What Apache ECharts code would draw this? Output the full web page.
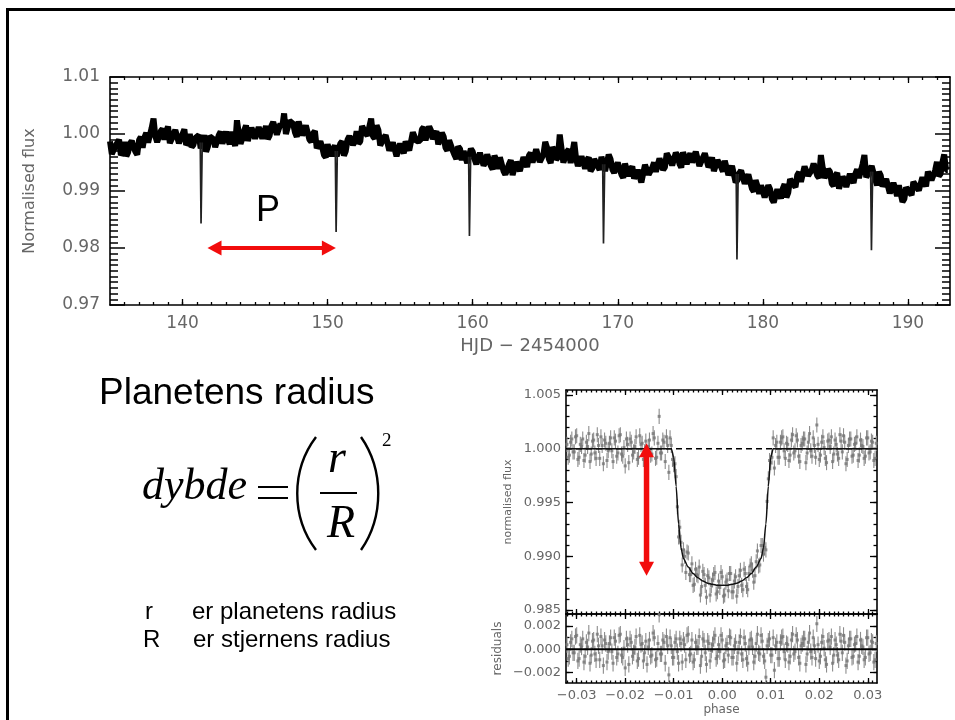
<!DOCTYPE html>
<html>
<head>
<meta charset="utf-8">
<script src="https://cdn.jsdelivr.net/npm/echarts@6/dist/echarts.min.js"></script>
<style>html,body{margin:0;padding:0;background:#fff}#c{width:955px;height:720px}</style>
</head>
<body>
<div id="c"></div>
<script>
// ---------- light curve (HJD - 2454000, normalised flux): two interleaved samplings, 0.25 d apart each ----------
const lcStep = 0.25;
const lcStartA = 135.0;
const lcFluxA = [
0.9987,0.9967,0.9981,0.9963,0.9986,0.9968,0.9988,0.9969,0.9989,0.9976,
1.0002,0.9988,1.0027,0.9986,1.0005,0.9990,1.0013,0.9991,1.0007,0.9984,
1.0000,0.9981,1.0000,0.9981,0.9994,0.9975,0.9998,0.9978,0.9997,0.9977,
0.9998,0.9983,1.0004,0.9982,1.0001,1.0024,0.9983,1.0006,0.9988,1.0011,
0.9992,1.0012,0.9992,1.0014,0.9997,1.0021,0.9999,1.0018,1.0036,1.0002,
1.0023,1.0003,1.0022,0.9998,1.0015,0.9990,1.0001,0.9975,0.9987,0.9963,
0.9982,0.9961,0.9980,0.9963,0.9987,0.9970,0.9996,0.9981,1.0005,0.9987,
1.0013,0.9997,1.0027,0.9992,1.0007,0.9983,0.9998,0.9971,0.9985,0.9961,
0.9983,0.9966,0.9988,0.9973,1.0001,0.9985,1.0008,0.9989,1.0013,0.9991,
1.0005,0.9979,0.9995,0.9971,0.9987,0.9963,0.9978,0.9954,0.9972,0.9950,
0.9969,0.9947,0.9967,0.9945,0.9964,0.9944,0.9962,0.9939,0.9956,0.9929,
0.9947,0.9928,0.9951,0.9935,0.9959,0.9942,0.9967,0.9949,0.9970,0.9951,
0.9986,0.9956,0.9977,0.9955,0.9999,0.9950,0.9969,0.9949,0.9986,0.9944,
0.9961,0.9939,0.9959,0.9940,0.9959,0.9937,0.9959,0.9937,0.9956,0.9932,
0.9950,0.9929,0.9948,0.9926,0.9943,0.9919,0.9938,0.9918,0.9943,0.9927,
0.9950,0.9933,0.9960,0.9942,0.9963,0.9945,0.9967,0.9948,0.9968,0.9947,
0.9966,0.9947,0.9967,0.9946,0.9966,0.9942,0.9959,0.9937,0.9955,0.9934,
0.9951,0.9927,0.9943,0.9919,0.9936,0.9913,0.9929,0.9904,0.9919,0.9895,
0.9910,0.9887,0.9903,0.9880,0.9903,0.9887,0.9912,0.9897,0.9922,0.9907,
0.9933,0.9919,0.9943,0.9926,0.9948,0.9927,0.9963,0.9923,0.9938,0.9913,
0.9927,0.9904,0.9925,0.9907,0.9930,0.9914,0.9938,0.9921,0.9963,0.9926,
0.9944,0.9920,0.9934,0.9908,0.9921,0.9896,0.9914,0.9891,0.9908,0.9886,
0.9909,0.9893,0.9917,0.9901,0.9924,0.9908,0.9935,0.9921,0.9951,0.9930,
0.9964,0.9937
];
const lcStartB = 135.125;
const lcFluxB = [
0.9965,0.9979,0.9990,0.9968,0.9961,0.9983,0.9977,0.9964,0.9995,0.9994,
0.9985,1.0011,0.9996,0.9986,1.0009,1.0005,0.9984,1.0000,1.0009,0.9986,
1.0008,0.9985,0.9977,0.9993,0.9998,0.9983,0.9969,0.9996,0.9991,0.9978,
1.0004,0.9984,0.9991,1.0004,0.9979,1.0002,0.9992,1.0015,0.9989,1.0002,
0.9989,1.0014,1.0003,0.9991,1.0014,1.0023,1.0002,1.0013,1.0000,1.0023,
1.0018,0.9995,1.0021,1.0004,1.0013,0.9986,1.0005,0.9974,0.9977,0.9959,
0.9984,0.9973,0.9961,0.9983,0.9962,0.9990,0.9999,0.9987,0.9983,1.0014,
1.0001,1.0013,0.9996,1.0015,0.9980,0.9993,0.9995,0.9973,0.9985,0.9958,
0.9975,0.9987,0.9971,1.0003,0.9987,0.9988,1.0012,0.9986,1.0006,0.9999,
0.9982,1.0002,0.9976,0.9989,0.9971,0.9956,0.9974,0.9970,0.9949,0.9974,
0.9956,0.9946,0.9967,0.9950,0.9965,0.9938,0.9954,0.9959,0.9935,0.9937,
0.9954,0.9928,0.9949,0.9933,0.9953,0.9962,0.9950,0.9973,0.9951,0.9964,
0.9976,0.9949,0.9970,0.9959,0.9974,0.9951,0.9973,0.9950,0.9957,0.9941,
0.9961,0.9954,0.9935,0.9956,0.9944,0.9960,0.9935,0.9964,0.9938,0.9941,
0.9949,0.9923,0.9948,0.9938,0.9922,0.9937,0.9915,0.9946,0.9929,0.9941,
0.9934,0.9957,0.9937,0.9966,0.9954,0.9946,0.9962,0.9941,0.9968,0.9959,
0.9950,0.9969,0.9944,0.9959,0.9968,0.9947,0.9935,0.9954,0.9942,0.9953,
0.9928,0.9944,0.9915,0.9931,0.9935,0.9914,0.9930,0.9899,0.9909,0.9910,
0.9889,0.9910,0.9886,0.9880,0.9906,0.9904,0.9889,0.9921,0.9911,0.9928,
0.9916,0.9943,0.9927,0.9937,0.9951,0.9923,0.9941,0.9930,0.9934,0.9909,
0.9932,0.9907,0.9920,0.9906,0.9932,0.9930,0.9923,0.9947,0.9924,0.9936,
0.9941,0.9910,0.9927,0.9911,0.9922,0.9896,0.9904,0.9910,0.9881,0.9906,
0.9897,0.9916,0.9906,0.9901,0.9921,0.9934,0.9919,0.9936,0.9926,0.9950,
0.9937
];
// transits seen in the light curve
const transitMid   = [141.29, 150.60, 159.79, 169.03, 178.23, 187.50];
const transitDepth = [0.9843, 0.9828, 0.9821, 0.9808, 0.9780, 0.9796];
const transitRim   = [0.9985, 0.9970, 0.9960, 0.9947, 0.9930, 0.9934];
const transitHalf = 0.07, transitFlat = 0.015;
const lcTickValues = [140, 150, 160, 170, 180, 190];
const periodArrow = [141.72, 150.57, 0.980]; // from, to, flux level

// ---------- phase-folded transit: two interleaved sets of points ----------
const phaseStep = 0.0005;
const phaseStartA = -0.032;
const foldFluxA = [
1.0004,0.9994,1.0009,0.9997,1.0012,0.9992,1.0002,0.9989,1.0006,1.0014,
0.9995,1.0008,0.9991,1.0003,1.0011,0.9986,1.0005,0.9998,1.0010,0.9988,
1.0007,0.9996,1.0013,0.9993,0.9984,1.0004,1.0009,0.9994,1.0002,0.9990,
1.0012,1.0005,0.9997,0.9987,1.0008,0.9995,1.0010,0.9992,1.0030,0.9996,
1.0006,1.0011,0.9978,1.0003,0.9985,0.9974,0.9918,0.9913,0.9906,0.9885,
0.9903,0.9883,0.9873,0.9888,0.9882,0.9864,0.9886,0.9873,0.9882,0.9864,
0.9878,0.9885,0.9867,0.9871,0.9881,0.9864,0.9878,0.9884,0.9867,0.9877,
0.9863,0.9882,0.9873,0.9888,0.9872,0.9884,0.9893,0.9876,0.9895,0.9891,
0.9910,0.9902,0.9906,0.9972,0.9987,1.0010,1.0003,0.9992,1.0006,1.0011,
0.9991,1.0004,0.9994,1.0013,0.9998,1.0008,0.9988,1.0005,1.0009,0.9996,
1.0014,0.9993,1.0003,1.0022,0.9990,1.0006,1.0001,0.9987,1.0008,1.0011,
0.9995,1.0004,0.9991,1.0007,1.0012,0.9986,1.0003,1.0009,0.9994,1.0005,
0.9989,1.0008,1.0002,0.9993,1.0010,0.9997,1.0006,0.9991,1.0004
];
const residualA = [
0.0004,-0.0006,0.0009,-0.0003,0.0012,-0.0008,0.0002,-0.0011,0.0006,0.0014,
-0.0005,0.0008,-0.0009,0.0003,0.0011,-0.0014,0.0005,-0.0002,0.0010,-0.0012,
0.0007,-0.0004,0.0013,-0.0007,-0.0016,0.0004,0.0009,-0.0006,0.0002,-0.0010,
0.0012,0.0005,-0.0003,-0.0013,0.0008,-0.0005,0.0010,-0.0008,0.0030,-0.0004,
0.0006,0.0011,-0.0022,0.0003,-0.0007,0.0009,-0.0012,0.0005,0.0008,-0.0009,
0.0013,-0.0004,-0.0011,0.0006,0.0002,-0.0014,0.0009,-0.0003,0.0007,-0.0010,
0.0004,0.0012,-0.0006,-0.0002,0.0008,-0.0009,0.0005,0.0011,-0.0007,0.0003,
-0.0012,0.0006,-0.0004,0.0010,-0.0008,0.0002,0.0009,-0.0011,0.0005,-0.0003,
0.0012,-0.0006,-0.0024,0.0007,-0.0005,0.0010,0.0003,-0.0008,0.0006,0.0011,
-0.0009,0.0004,-0.0006,0.0013,-0.0002,0.0008,-0.0012,0.0005,0.0009,-0.0004,
0.0014,-0.0007,0.0003,0.0022,-0.0010,0.0006,0.0001,-0.0013,0.0008,0.0011,
-0.0005,0.0004,-0.0009,0.0007,0.0012,-0.0014,0.0003,0.0009,-0.0006,0.0005,
-0.0011,0.0008,0.0002,-0.0007,0.0010,-0.0003,0.0006,-0.0009,0.0004
];
const phaseStartB = -0.03175;
const foldFluxB = [
0.9992,1.0006,0.9997,1.0011,0.9990,1.0004,1.0009,0.9994,1.0002,0.9988,
1.0007,0.9996,1.0013,0.9991,1.0003,1.0008,0.9989,1.0005,0.9998,1.0010,
0.9993,1.0012,0.9995,1.0001,1.0009,0.9987,1.0006,0.9997,1.0011,0.9992,
1.0004,0.9990,1.0007,1.0002,0.9994,1.0014,0.9991,1.0005,0.9996,1.0008,
0.9988,1.0003,1.0010,0.9990,0.9986,0.9946,0.9927,0.9892,0.9900,0.9904,
0.9883,0.9893,0.9874,0.9883,0.9890,0.9872,0.9883,0.9862,0.9880,0.9873,
0.9883,0.9865,0.9877,0.9885,0.9863,0.9876,0.9868,0.9884,0.9867,0.9881,
0.9872,0.9887,0.9869,0.9884,0.9869,0.9891,0.9887,0.9882,0.9905,0.9892,
0.9910,0.9908,0.9951,0.9989,0.9992,0.9982,1.0006,0.9992,1.0010,0.9998,
1.0005,0.9989,1.0008,0.9996,1.0012,0.9993,1.0003,1.0009,0.9987,1.0006,
0.9998,1.0010,0.9992,1.0004,0.9994,1.0011,0.9991,1.0007,1.0002,0.9988,
1.0008,0.9995,1.0013,0.9997,1.0006,0.9990,1.0009,0.9993,1.0004,1.0011,
0.9994,1.0003,0.9991,1.0010,0.9996,1.0007,0.9989,1.0005
];
const residualB = [
-0.0008,0.0006,-0.0003,0.0011,-0.0010,0.0004,0.0009,-0.0006,0.0002,-0.0012,
0.0007,-0.0004,0.0013,-0.0009,0.0003,0.0008,-0.0011,0.0005,-0.0002,0.0010,
-0.0007,0.0012,-0.0005,0.0001,0.0009,-0.0013,0.0006,-0.0003,0.0011,-0.0008,
0.0004,-0.0010,0.0007,0.0002,-0.0006,0.0014,-0.0009,0.0005,-0.0004,0.0008,
-0.0012,0.0003,0.0010,-0.0007,0.0006,-0.0002,0.0009,-0.0011,0.0004,0.0012,
-0.0005,0.0008,-0.0009,0.0002,0.0011,-0.0006,0.0007,-0.0013,0.0005,-0.0001,
0.0009,-0.0008,0.0004,0.0012,-0.0010,0.0003,-0.0005,0.0010,-0.0007,0.0006,
-0.0003,0.0011,-0.0009,0.0005,-0.0012,0.0008,0.0002,-0.0006,0.0013,-0.0004,
0.0007,-0.0010,0.0003,0.0009,-0.0005,-0.0018,0.0006,-0.0008,0.0010,-0.0002,
0.0005,-0.0011,0.0008,-0.0004,0.0012,-0.0007,0.0003,0.0009,-0.0013,0.0006,
-0.0002,0.0010,-0.0008,0.0004,-0.0006,0.0011,-0.0009,0.0007,0.0002,-0.0012,
0.0008,-0.0005,0.0013,-0.0003,0.0006,-0.0010,0.0009,-0.0007,0.0004,0.0011,
-0.0006,0.0003,-0.0009,0.0010,-0.0004,0.0007,-0.0011,0.0005
];
const errHalf = 0.0007;
const modelPhase = [-0.032,-0.0105,-0.0100,-0.0095,-0.0090,-0.0085,-0.0080,-0.0070,-0.0060,-0.0050,-0.0040,-0.0030,-0.0020,-0.0010,0,
                    0.0010,0.0020,0.0030,0.0040,0.0050,0.0060,0.0070,0.0080,0.0085,0.0090,0.0095,0.0100,0.0105,0.032];
const modelFlux  = [1,1,0.9992,0.9965,0.9930,0.9908,0.9898,0.9890,0.9884,0.9880,0.9877,0.9875,0.9874,0.9873,0.9873,
                    0.9873,0.9874,0.9875,0.9877,0.9880,0.9884,0.9890,0.9898,0.9908,0.9930,0.9965,0.9992,1,1];
const baselineFlux = 1.0;
const phaseTickValues = [-0.03,-0.02,-0.01,0,0.01,0.02,0.03];
const foldTickValues = [0.985,0.990,0.995,1.000,1.005];
const residTickValues = [-0.002,0,0.002];
const depthArrow = [-0.0156, 1.0005, 0.9882]; // phase, top, bottom

// ---------- build ----------
const r6 = v => Math.round(v * 1e6) / 1e6;
const lcData = lcFluxA.map((f, i) => [lcStartA + i * lcStep, f])
  .concat(lcFluxB.map((f, j) => [lcStartB + j * lcStep, f]))
  .sort((p, q) => p[0] - q[0]);
const withPhase = (arr, start) => arr.map((f, k) => [r6(start + k * phaseStep), f, errHalf]);
const foldData = withPhase(foldFluxA, phaseStartA).concat(withPhase(foldFluxB, phaseStartB));
const residData = withPhase(residualA, phaseStartA).concat(withPhase(residualB, phaseStartB));
const modelData = modelPhase.map((p, i) => [p, modelFlux[i]]);

function range(a, b, s) { const o = []; for (let v = a; v <= b + s / 2; v += s) o.push(r6(v)); return o; }
const lcMinor = range(136, 192, 1);
const phaseMinor = range(-0.032, 0.031, 0.001);
const foldMinor = range(0.985, 1.005, 0.001);
const residMinor = range(-0.002, 0.003, 0.001);

const AX = '#000', LBL = '#666', FONT = 'DejaVu Sans';
const RED = '#f20c0c';

function xAx(grid, pos, min, max, ticks, len, opts) {
  return Object.assign({
    type: 'value', gridIndex: grid, position: pos, min: min, max: max,
    axisLine: { show: true, onZero: false, lineStyle: { color: AX, width: 1.6 } },
    axisTick: { show: true, inside: true, length: len, customValues: ticks, lineStyle: { color: AX, width: 1.3 } },
    axisLabel: { show: false }, splitLine: { show: false }
  }, opts || {});
}
const yAx = xAx;
const minorOpt = { axisLine: { show: false, onZero: false } };
const fmtSigned = d => v => (Math.abs(v) < 1e-9 ? (0).toFixed(d) : (v < 0 ? '\u2212' : '') + Math.abs(v).toFixed(d));

const PX = [-0.0322, 0.0319], FY = [0.98464, 1.00545], RY = [-0.0029, 0.00304];

const xAxis = [
  xAx(0, 'bottom', 135, 192.9, lcTickValues, 6, {
    axisLabel: { show: true, customValues: lcTickValues, color: LBL, fontSize: 17, fontFamily: FONT, margin: 10 },
    name: 'HJD \u2212 2454000', nameLocation: 'middle', nameGap: 32,
    nameTextStyle: { color: LBL, fontSize: 18, fontFamily: FONT }
  }),
  xAx(0, 'bottom', 135, 192.9, lcMinor, 3, minorOpt),
  xAx(0, 'top', 135, 192.9, lcTickValues, 6),
  xAx(0, 'top', 135, 192.9, lcMinor, 3, minorOpt),
  xAx(1, 'bottom', PX[0], PX[1], phaseTickValues, 5),
  xAx(1, 'bottom', PX[0], PX[1], phaseMinor, 2.5, minorOpt),
  xAx(1, 'top', PX[0], PX[1], phaseTickValues, 5),
  xAx(1, 'top', PX[0], PX[1], phaseMinor, 2.5, minorOpt),
  xAx(2, 'bottom', PX[0], PX[1], phaseTickValues, 5, {
    axisLabel: { show: true, customValues: phaseTickValues, color: LBL, fontSize: 13, fontFamily: FONT, margin: 6, formatter: fmtSigned(2) },
    name: 'phase', nameLocation: 'middle', nameGap: 21,
    nameTextStyle: { color: LBL, fontSize: 12, fontFamily: FONT }
  }),
  xAx(2, 'bottom', PX[0], PX[1], phaseMinor, 2.5, minorOpt),
  xAx(2, 'top', PX[0], PX[1], phaseTickValues, 5),
  xAx(2, 'top', PX[0], PX[1], phaseMinor, 2.5, minorOpt)
];

const lcYBase = {
  type: 'value', gridIndex: 0, min: 0.97, max: 1.01, interval: 0.01,
  axisLine: { show: true, onZero: false, lineStyle: { color: AX, width: 1.6 } },
  axisTick: { show: true, inside: true, length: 15, lineStyle: { color: AX, width: 1.5 } },
  minorTick: { show: true, splitNumber: 10, length: 8, lineStyle: { color: AX, width: 1.5 } },
  splitLine: { show: false }
};
const yAxis = [
  Object.assign({}, lcYBase, {
    position: 'left',
    axisLabel: { color: LBL, fontSize: 17, fontFamily: FONT, margin: 10, formatter: v => v.toFixed(2) },
    name: 'Normalised flux', nameLocation: 'middle', nameGap: 72,
    nameTextStyle: { color: LBL, fontSize: 16, fontFamily: FONT }
  }),
  Object.assign({}, lcYBase, { position: 'right', axisLabel: { show: false } }),
  yAx(1, 'left', FY[0], FY[1], foldTickValues, 7, {
    axisLabel: { show: true, customValues: foldTickValues, color: LBL, fontSize: 13, fontFamily: FONT, margin: 5, formatter: v => v.toFixed(3) },
    name: 'normalised flux', nameLocation: 'middle', nameGap: 52,
    nameTextStyle: { color: LBL, fontSize: 11, fontFamily: FONT }
  }),
  yAx(1, 'left', FY[0], FY[1], foldMinor, 3.5, minorOpt),
  yAx(1, 'right', FY[0], FY[1], foldTickValues, 7),
  yAx(1, 'right', FY[0], FY[1], foldMinor, 3.5, minorOpt),
  yAx(2, 'left', RY[0], RY[1], residTickValues, 7, {
    axisLabel: { show: true, customValues: residTickValues, color: LBL, fontSize: 13, fontFamily: FONT, margin: 5, formatter: fmtSigned(3) },
    name: 'residuals', nameLocation: 'middle', nameGap: 62,
    nameTextStyle: { color: LBL, fontSize: 12, fontFamily: FONT }
  }),
  yAx(2, 'left', RY[0], RY[1], residMinor, 3.5, minorOpt),
  yAx(2, 'right', RY[0], RY[1], residTickValues, 7),
  yAx(2, 'right', RY[0], RY[1], residMinor, 3.5, minorOpt)
];

function errBar(color) {
  return function (params, api) {
    const x = api.value(0), y = api.value(1), e = api.value(2);
    const a = api.coord([x, y + e]), b = api.coord([x, y - e]);
    return { type: 'line', shape: { x1: a[0], y1: a[1], x2: b[0], y2: b[1] }, style: { stroke: color, lineWidth: 1.1 } };
  };
}
function arrowShape(p1, p2, shaftW, headLen, headW) {
  const dx = p2[0] - p1[0], dy = p2[1] - p1[1], L = Math.hypot(dx, dy);
  const ux = dx / L, uy = dy / L, nx = -uy, ny = ux;
  const a = [p1[0] + ux * headLen, p1[1] + uy * headLen];
  const b = [p2[0] - ux * headLen, p2[1] - uy * headLen];
  const h = headW / 2;
  return { type: 'group', children: [
    { type: 'line', shape: { x1: a[0] - ux, y1: a[1] - uy, x2: b[0] + ux, y2: b[1] + uy }, style: { stroke: RED, lineWidth: shaftW } },
    { type: 'polygon', shape: { points: [p1, [a[0] + nx * h, a[1] + ny * h], [a[0] - nx * h, a[1] - ny * h]] }, style: { fill: RED } },
    { type: 'polygon', shape: { points: [p2, [b[0] + nx * h, b[1] + ny * h], [b[0] - nx * h, b[1] - ny * h]] }, style: { fill: RED } }
  ]};
}

const series = [];
series.push({
  type: 'line', xAxisIndex: 0, yAxisIndex: 0, data: lcData, showSymbol: false, symbol: 'none', sampling: null,
  lineStyle: { color: '#000', width: 6, join: 'bevel' }, clip: true, z: 3
});
transitMid.forEach((m, i) => {
  series.push({
    type: 'line', xAxisIndex: 0, yAxisIndex: 0, showSymbol: false, symbol: 'none', z: 4,
    data: [[m - transitHalf, transitRim[i]], [m - transitFlat, transitDepth[i]], [m + transitFlat, transitDepth[i]], [m + transitHalf, transitRim[i]]],
    lineStyle: { color: '#222', width: 1.7 }
  });
});
series.push({
  type: 'custom', xAxisIndex: 0, yAxisIndex: 0, z: 6,
  data: [[periodArrow[0], periodArrow[2], periodArrow[1], periodArrow[2]]],
  renderItem: (p, api) => arrowShape(api.coord([api.value(0), api.value(1)]), api.coord([api.value(2), api.value(3)]), 4, 14, 15)
});
// inset upper
series.push({
  type: 'custom', xAxisIndex: 4, yAxisIndex: 2, data: foldData, renderItem: errBar('#8c8c8c'), clip: true, z: 2,
  encode: { x: 0, y: 1 }
});
series.push({
  type: 'scatter', xAxisIndex: 4, yAxisIndex: 2, data: foldData.map(d => [d[0], d[1]]), symbol: 'rect', symbolSize: 3,
  itemStyle: { color: '#777' }, z: 3
});
series.push({
  type: 'line', xAxisIndex: 4, yAxisIndex: 2, data: [[PX[0], baselineFlux], [PX[1], baselineFlux]], showSymbol: false, symbol: 'none',
  lineStyle: { color: '#000', width: 1.5, type: [6, 4] }, z: 4
});
series.push({
  type: 'line', xAxisIndex: 4, yAxisIndex: 2, data: modelData, showSymbol: false, symbol: 'none', smooth: 0.25, smoothMonotone: 'x',
  lineStyle: { color: '#111', width: 1.5 }, z: 5
});
series.push({
  type: 'custom', xAxisIndex: 4, yAxisIndex: 2, z: 6,
  data: [[depthArrow[0], depthArrow[1], depthArrow[0], depthArrow[2]]],
  renderItem: (p, api) => arrowShape(api.coord([api.value(0), api.value(1)]), api.coord([api.value(2), api.value(3)]), 5.5, 14, 15)
});
// inset residuals
series.push({
  type: 'custom', xAxisIndex: 8, yAxisIndex: 6, data: residData, renderItem: errBar('#8c8c8c'), clip: true, z: 2,
  encode: { x: 0, y: 1 }
});
series.push({
  type: 'scatter', xAxisIndex: 8, yAxisIndex: 6, data: residData.map(d => [d[0], d[1]]), symbol: 'rect', symbolSize: 3,
  itemStyle: { color: '#777' }, z: 3
});
series.push({
  type: 'line', xAxisIndex: 8, yAxisIndex: 6, data: [[PX[0], 0], [PX[1], 0]], showSymbol: false, symbol: 'none',
  lineStyle: { color: '#000', width: 2 }, z: 4
});

const SANS = "'Liberation Sans', Arial, sans-serif";
const SERIF = "'Liberation Serif', 'Times New Roman', serif";
function txt(text, x, y, font, align) {
  return { type: 'text', x: x, y: y, style: { text: text, font: font, fill: '#000', textAlign: align || 'left', textVerticalAlign: 'middle' }, z: 10 };
}
const graphic = [
  { type: 'polyline', shape: { points: [[7.5, 720], [7.5, 9.5], [955, 9.5]] }, style: { stroke: '#000', lineWidth: 3, fill: null }, z: 10 },
  txt('P', 268, 211, '36px ' + SANS, 'center'),
  txt('Planetens radius', 99, 394, '37px ' + SANS),
  txt('dybde', 142, 487, 'italic 44px ' + SERIF),
  { type: 'line', shape: { x1: 258, y1: 487, x2: 288, y2: 487 }, style: { stroke: '#000', lineWidth: 2 }, z: 10 },
  { type: 'line', shape: { x1: 258, y1: 498, x2: 288, y2: 498 }, style: { stroke: '#000', lineWidth: 2 }, z: 10 },
  { type: 'bezierCurve', shape: { x1: 316, y1: 437, cpx1: 291, cpy1: 470, cpx2: 291, cpy2: 517, x2: 316, y2: 550 }, style: { stroke: '#000', lineWidth: 2.4, fill: null }, z: 10 },
  { type: 'bezierCurve', shape: { x1: 361, y1: 437, cpx1: 384, cpy1: 470, cpx2: 384, cpy2: 517, x2: 361, y2: 550 }, style: { stroke: '#000', lineWidth: 2.4, fill: null }, z: 10 },
  txt('r', 337, 460, 'italic 46px ' + SERIF, 'center'),
  { type: 'line', shape: { x1: 320, y1: 493, x2: 357, y2: 493 }, style: { stroke: '#000', lineWidth: 2 }, z: 10 },
  txt('R', 341, 525, 'italic 46px ' + SERIF, 'center'),
  txt('2', 382, 441, '19px ' + SERIF),
  txt('r', 145, 612, '24px ' + SANS),
  txt('er planetens radius', 192, 612, '24px ' + SANS),
  txt('R', 143, 640, '24px ' + SANS),
  txt('er stjernens radius', 193, 640, '24px ' + SANS)
];

const chart = echarts.init(document.getElementById('c'), null, { renderer: 'canvas' });
chart.setOption({
  backgroundColor: '#fff',
  animation: false,
  grid: [
    { left: 110, top: 77, width: 840, height: 228 },
    { left: 566, top: 390, width: 311, height: 224 },
    { left: 566, top: 614, width: 311, height: 69 }
  ],
  xAxis: xAxis,
  yAxis: yAxis,
  series: series,
  graphic: graphic
});
</script>
</body>
</html>
